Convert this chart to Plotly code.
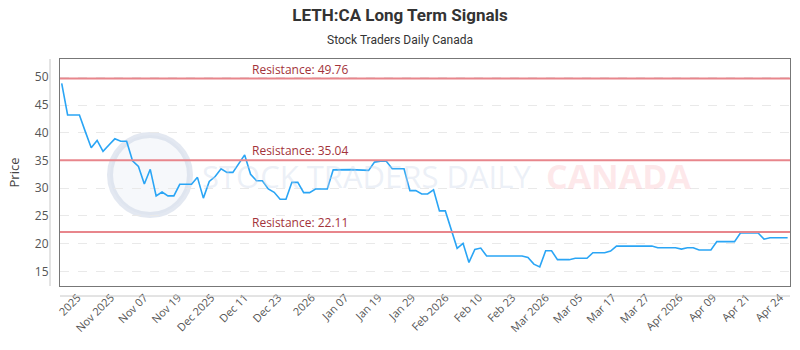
import numpy as np
import plotly.graph_objects as go

# ---- data ----
prices = [
    48.9, 43.2, 43.2, 43.2, 40.2, 37.3, 38.6, 36.65, 37.8, 38.9,
    38.45, 38.45, 34.95, 33.9, 30.75, 33.4, 28.6, 29.3, 28.6, 28.6,
    30.7, 30.7, 30.7, 31.95, 28.2, 31.2, 32.1, 33.5, 32.85, 32.85,
    34.5, 36.0, 32.5, 31.35, 31.35, 29.85, 29.25, 28.0, 28.0, 31.05,
    31.05, 29.2, 29.2, 29.85, 29.85, 29.85, 33.3, 33.35, 33.35, 33.35,
    33.3, 33.3, 33.2, 34.7, 34.85, 34.85, 33.5, 33.5, 33.5, 29.55,
    29.55, 28.95, 28.95, 29.7, 25.9, 25.9, 22.5, 19.15, 20.05, 16.6,
    18.95, 19.2, 17.75, 17.75, 17.75, 17.75, 17.75, 17.75, 17.75, 17.5,
    16.3, 15.8, 18.7, 18.7, 17.1, 17.1, 17.1, 17.35, 17.35, 17.35,
    18.35, 18.35, 18.35, 18.65, 19.55, 19.55, 19.55, 19.55, 19.55, 19.55,
    19.55, 19.25, 19.25, 19.25, 19.25, 19.0, 19.25, 19.25, 18.85, 18.85,
    18.85, 20.35, 20.35, 20.35, 20.35, 21.9, 21.9, 21.9, 21.9, 20.8,
    21.05, 21.05, 21.05, 21.05,
]
x_idx = list(range(len(prices)))

tick_labels = [
    "2025", "Nov 2025", "Nov 07", "Nov 19", "Dec 2025", "Dec 11", "Dec 23",
    "2026", "Jan 07", "Jan 19", "Jan 29", "Feb 2026", "Feb 10", "Feb 23",
    "Mar 2026", "Mar 05", "Mar 17", "Mar 27", "Apr 2026", "Apr 09",
    "Apr 21", "Apr 24",
]
resistance_levels = [49.76, 35.04, 22.11]

tick_vals = list(np.linspace(2.7, 121.7, len(tick_labels)))

fig = go.Figure()

fig.add_trace(go.Scatter(
    x=x_idx, y=prices, mode="lines",
    line=dict(color="#2aa5f5", width=1.6),
    hoverinfo="y", showlegend=False,
))

# resistance lines
for lvl in resistance_levels:
    fig.add_shape(type="line", xref="paper", yref="y", x0=0, x1=1, y0=lvl, y1=lvl,
                  line=dict(color="#e8868c", width=2), layer="above")
    fig.add_annotation(xref="x", yref="y", x=31.9, y=lvl, text=f"Resistance: {lvl:.2f}",
                       showarrow=False, xanchor="left", yanchor="bottom", yshift=-1,
                       font=dict(family="Open Sans", size=12, color="#a3333a"))

# watermark logo
fig.add_shape(type="circle", xref="paper", yref="paper",
              x0=(110 - 60) / 730, x1=(190 - 60) / 730,
              y0=(286 - 215) / 227, y1=(286 - 135) / 227,
              line=dict(color="rgba(200,210,228,0.5)", width=6),
              fillcolor="rgba(225,232,242,0.3)", layer="below")
fig.add_annotation(xref="paper", yref="paper", x=(200 - 60) / 730, y=(286 - 176) / 227,
                   text="STOCK TRADERS DAILY", showarrow=False, xanchor="left",
                   yanchor="middle",
                   font=dict(family="Open Sans", size=31, color="rgba(200,212,232,0.35)"))
fig.add_annotation(xref="paper", yref="paper", x=(544 - 60) / 730, y=(286 - 176) / 227,
                   text="<b>CANADA</b>", showarrow=False, xanchor="left", yanchor="middle",
                   font=dict(family="Open Sans", size=34, color="rgba(250,190,195,0.35)"))

# subtitle
fig.add_annotation(xref="paper", yref="paper", x=(400 - 60) / 730, y=1 + (59 - 40) / 227,
                   text="Stock Traders Daily Canada", showarrow=False,
                   xanchor="center", yanchor="middle",
                   font=dict(family="Roboto", size=12, color="#333"))

# outer light axis lines
fig.add_shape(type="line", xref="paper", yref="paper", x0=-10 / 730, x1=-10 / 730,
              y0=0, y1=1, line=dict(color="#c8c8c8", width=1))
fig.add_shape(type="line", xref="paper", yref="paper", x0=0, x1=1,
              y0=-10 / 227, y1=-10 / 227, line=dict(color="#c8c8c8", width=1))

fig.update_layout(
    width=800, height=350,
    margin=dict(l=60, r=10, t=59, b=64),
    paper_bgcolor="white", plot_bgcolor="white",
    title=dict(text="<b>LETH:CA Long Term Signals</b>", x=0.5, xanchor="center",
               y=1 - 15 / 350, yanchor="middle",
               font=dict(family="Roboto", size=17, color="#333")),
    xaxis=dict(range=[-0.29, 123.4], tickvals=tick_vals, ticktext=tick_labels,
               tickangle=-45, showgrid=False, zeroline=False,
               showline=True, mirror=True, linecolor="#777", linewidth=1,
               ticks="", tickfont=dict(family="Open Sans", size=11, color="#555")),
    yaxis=dict(range=[12.35, 53.3], tickvals=[15, 20, 25, 30, 35, 40, 45, 50],
               showgrid=True, gridcolor="#e9e9e9", griddash="dash", zeroline=False,
               showline=True, mirror=True, linecolor="#777", linewidth=1,
               ticks="", ticklabelstandoff=8,
               tickfont=dict(family="Open Sans", size=12, color="#555"),
               title=dict(text="Price", font=dict(family="Open Sans", size=13, color="#444"),
                          standoff=12)),
)

fig.write_html("out.html")
